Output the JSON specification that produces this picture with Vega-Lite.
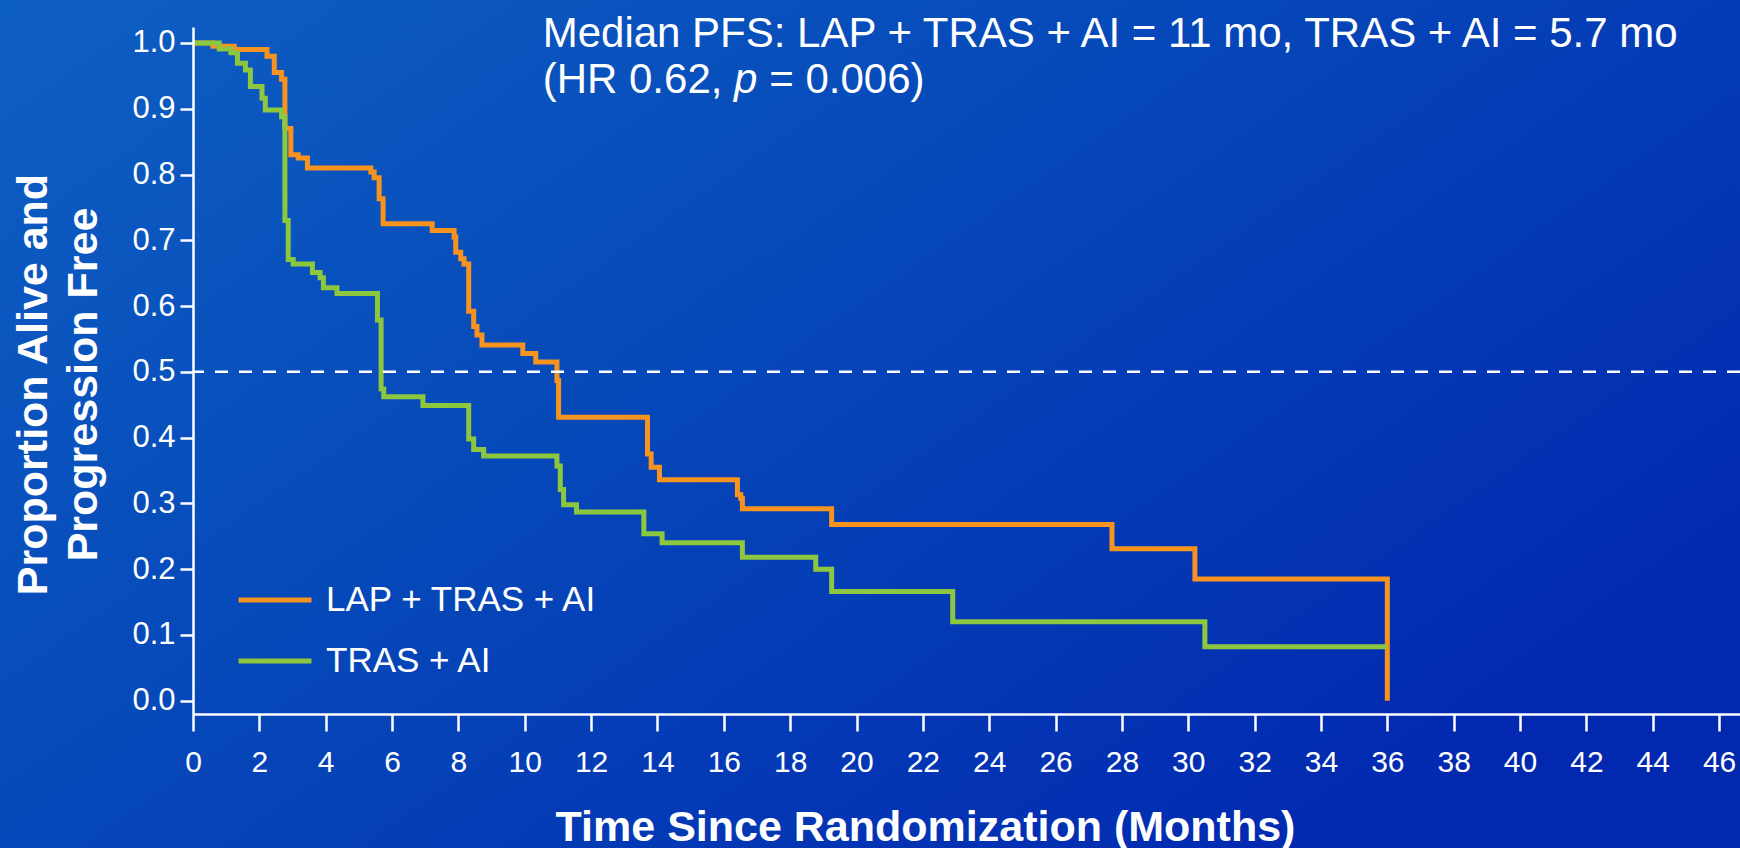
{
  "$schema": "https://vega.github.io/schema/vega-lite/v6.json",
  "width": 1547,
  "height": 687,
  "autosize": {"type": "none"},
  "padding": {"left": 193, "top": 27, "right": 0, "bottom": 134},
  "background": "#0647b9",
  "config": {"view": {"stroke": null}, "font": "Liberation Sans"},
  "datasets": {
    "one": [{"k": 1}],
    "km": [
      {"group": "LAP + TRAS + AI", "t": 0, "p": 1.0},
      {"group": "LAP + TRAS + AI", "t": 0.6, "p": 0.995},
      {"group": "LAP + TRAS + AI", "t": 1.24, "p": 0.99},
      {"group": "LAP + TRAS + AI", "t": 2.23, "p": 0.98},
      {"group": "LAP + TRAS + AI", "t": 2.45, "p": 0.955},
      {"group": "LAP + TRAS + AI", "t": 2.67, "p": 0.945},
      {"group": "LAP + TRAS + AI", "t": 2.77, "p": 0.87},
      {"group": "LAP + TRAS + AI", "t": 2.95, "p": 0.83},
      {"group": "LAP + TRAS + AI", "t": 3.17, "p": 0.825},
      {"group": "LAP + TRAS + AI", "t": 3.45, "p": 0.81},
      {"group": "LAP + TRAS + AI", "t": 5.36, "p": 0.804},
      {"group": "LAP + TRAS + AI", "t": 5.46, "p": 0.795},
      {"group": "LAP + TRAS + AI", "t": 5.61, "p": 0.763},
      {"group": "LAP + TRAS + AI", "t": 5.73, "p": 0.725},
      {"group": "LAP + TRAS + AI", "t": 7.21, "p": 0.715},
      {"group": "LAP + TRAS + AI", "t": 7.87, "p": 0.705},
      {"group": "LAP + TRAS + AI", "t": 7.92, "p": 0.682},
      {"group": "LAP + TRAS + AI", "t": 8.07, "p": 0.672},
      {"group": "LAP + TRAS + AI", "t": 8.17, "p": 0.664},
      {"group": "LAP + TRAS + AI", "t": 8.31, "p": 0.592},
      {"group": "LAP + TRAS + AI", "t": 8.46, "p": 0.569},
      {"group": "LAP + TRAS + AI", "t": 8.56, "p": 0.556},
      {"group": "LAP + TRAS + AI", "t": 8.71, "p": 0.541},
      {"group": "LAP + TRAS + AI", "t": 9.94, "p": 0.528},
      {"group": "LAP + TRAS + AI", "t": 10.33, "p": 0.515},
      {"group": "LAP + TRAS + AI", "t": 10.97, "p": 0.487},
      {"group": "LAP + TRAS + AI", "t": 11.02, "p": 0.431},
      {"group": "LAP + TRAS + AI", "t": 13.7, "p": 0.375},
      {"group": "LAP + TRAS + AI", "t": 13.81, "p": 0.355},
      {"group": "LAP + TRAS + AI", "t": 14.06, "p": 0.336},
      {"group": "LAP + TRAS + AI", "t": 16.41, "p": 0.313},
      {"group": "LAP + TRAS + AI", "t": 16.51, "p": 0.308},
      {"group": "LAP + TRAS + AI", "t": 16.56, "p": 0.292},
      {"group": "LAP + TRAS + AI", "t": 19.25, "p": 0.268},
      {"group": "LAP + TRAS + AI", "t": 27.7, "p": 0.231},
      {"group": "LAP + TRAS + AI", "t": 30.2, "p": 0.185},
      {"group": "LAP + TRAS + AI", "t": 36.0, "p": 0.0},
      {"group": "TRAS + AI", "t": 0, "p": 1.0},
      {"group": "TRAS + AI", "t": 0.79, "p": 0.991},
      {"group": "TRAS + AI", "t": 1.14, "p": 0.985},
      {"group": "TRAS + AI", "t": 1.34, "p": 0.969},
      {"group": "TRAS + AI", "t": 1.58, "p": 0.959},
      {"group": "TRAS + AI", "t": 1.73, "p": 0.934},
      {"group": "TRAS + AI", "t": 2.08, "p": 0.916},
      {"group": "TRAS + AI", "t": 2.18, "p": 0.898},
      {"group": "TRAS + AI", "t": 2.67, "p": 0.888},
      {"group": "TRAS + AI", "t": 2.77, "p": 0.73},
      {"group": "TRAS + AI", "t": 2.87, "p": 0.671},
      {"group": "TRAS + AI", "t": 3.02, "p": 0.664},
      {"group": "TRAS + AI", "t": 3.6, "p": 0.651},
      {"group": "TRAS + AI", "t": 3.83, "p": 0.643},
      {"group": "TRAS + AI", "t": 3.93, "p": 0.628},
      {"group": "TRAS + AI", "t": 4.34, "p": 0.619},
      {"group": "TRAS + AI", "t": 5.56, "p": 0.579},
      {"group": "TRAS + AI", "t": 5.67, "p": 0.474},
      {"group": "TRAS + AI", "t": 5.75, "p": 0.462},
      {"group": "TRAS + AI", "t": 6.93, "p": 0.449},
      {"group": "TRAS + AI", "t": 8.31, "p": 0.398},
      {"group": "TRAS + AI", "t": 8.46, "p": 0.382},
      {"group": "TRAS + AI", "t": 8.76, "p": 0.372},
      {"group": "TRAS + AI", "t": 10.97, "p": 0.357},
      {"group": "TRAS + AI", "t": 11.07, "p": 0.321},
      {"group": "TRAS + AI", "t": 11.17, "p": 0.298},
      {"group": "TRAS + AI", "t": 11.56, "p": 0.287},
      {"group": "TRAS + AI", "t": 13.59, "p": 0.254},
      {"group": "TRAS + AI", "t": 14.14, "p": 0.24},
      {"group": "TRAS + AI", "t": 16.56, "p": 0.218},
      {"group": "TRAS + AI", "t": 18.77, "p": 0.2},
      {"group": "TRAS + AI", "t": 19.25, "p": 0.166},
      {"group": "TRAS + AI", "t": 22.9, "p": 0.12},
      {"group": "TRAS + AI", "t": 30.5, "p": 0.082},
      {"group": "TRAS + AI", "t": 36.0, "p": 0.082}
    ]
  },
  "layer": [
    {
      "data": {"name": "one"},
      "mark": {
        "type": "rect", "clip": false,
        "fill": {
          "gradient": "linear", "x1": 0, "y1": 0, "x2": 1, "y2": 0.7,
          "stops": [
            {"offset": 0, "color": "#0e5fc3"},
            {"offset": 0.45, "color": "#0649b9"},
            {"offset": 1, "color": "#0228b0"}
          ]
        }
      },
      "encoding": {
        "x": {"datum": -5.83, "type": "quantitative"},
        "x2": {"datum": 46.63},
        "y": {"datum": 1.066, "type": "quantitative"},
        "y2": {"datum": -0.225}
      }
    },
    {
      "data": {"name": "km"},
      "mark": {"type": "line", "interpolate": "step-after", "strokeWidth": 5, "clip": false},
      "encoding": {
        "x": {
          "field": "t", "type": "quantitative",
          "scale": {"domain": [0, 46.63], "nice": false, "zero": false},
          "axis": {
            "zindex": 5,
            "values": [0,2,4,6,8,10,12,14,16,18,20,22,24,26,28,30,32,34,36,38,40,42,44,46],
            "grid": false, "domainColor": "white", "domainWidth": 2.5,
            "tickColor": "white", "tickWidth": 2.5, "tickSize": 17,
            "labelColor": "white", "labelFontSize": 30, "labelPadding": 16,
            "labelFlush": false, "labelOverlap": false,
            "title": "Time Since Randomization (Months)",
            "titleColor": "white", "titleFontSize": 43, "titleFontWeight": "bold",
            "titleX": 732, "titleY": 126, "titleBaseline": "alphabetic", "titleAlign": "center"
          }
        },
        "y": {
          "field": "p", "type": "quantitative",
          "scale": {"domain": [-0.0202, 1.0243], "nice": false, "zero": false},
          "axis": {
            "zindex": 5,
            "values": [0,0.1,0.2,0.3,0.4,0.5,0.6,0.7,0.8,0.9,1.0],
            "format": ".1f",
            "grid": false, "domainColor": "white", "domainWidth": 2.5,
            "tickColor": "white", "tickWidth": 2.5, "tickSize": 13,
            "labelColor": "white", "labelFontSize": 31, "labelPadding": 5,
            "labelFlush": false, "labelOverlap": false,
            "title": ["Proportion Alive and", "Progression Free"],
            "titleColor": "white", "titleFontSize": 43, "titleFontWeight": "bold",
            "titleAngle": -90, "titleX": -160, "titleY": 357,
            "titleBaseline": "middle", "titleAlign": "center", "titleLineHeight": 50
          }
        },
        "color": {
          "field": "group", "type": "nominal",
          "scale": {"domain": ["LAP + TRAS + AI", "TRAS + AI"], "range": ["#f7931e", "#8dc63f"]},
          "legend": {
            "zindex": 5,
            "orient": "none", "legendX": 43, "legendY": 534, "title": null,
            "symbolType": "stroke", "symbolSize": 5329, "symbolStrokeWidth": 5,
            "labelColor": "white", "labelFontSize": 35, "labelOffset": 12, "labelLimit": 0,
            "rowPadding": 4
          }
        }
      }
    },
    {
      "data": {"name": "one"},
      "mark": {"type": "rule", "color": "white", "strokeWidth": 2.5, "strokeDash": [13, 11]},
      "encoding": {
        "y": {"datum": 0.5, "type": "quantitative"}
      }
    },
    {
      "data": {"name": "one"},
      "mark": {"type": "text", "color": "white", "fontSize": 42, "align": "left", "baseline": "alphabetic"},
      "encoding": {
        "x": {"datum": 10.54, "type": "quantitative"},
        "y": {"datum": 0.9942, "type": "quantitative"},
        "text": {"value": "Median PFS: LAP + TRAS + AI = 11 mo, TRAS + AI = 5.7 mo"}
      }
    },
    {
      "data": {"name": "one"},
      "mark": {"type": "text", "color": "white", "fontSize": 42, "align": "left", "baseline": "alphabetic"},
      "encoding": {
        "x": {"datum": 10.54, "type": "quantitative"},
        "y": {"datum": 0.924, "type": "quantitative"},
        "text": {"value": "(HR 0.62,"}
      }
    },
    {
      "data": {"name": "one"},
      "mark": {"type": "text", "color": "white", "fontSize": 42, "fontStyle": "italic", "align": "left", "baseline": "alphabetic"},
      "encoding": {
        "x": {"datum": 16.31, "type": "quantitative"},
        "y": {"datum": 0.924, "type": "quantitative"},
        "text": {"value": "p"}
      }
    },
    {
      "data": {"name": "one"},
      "mark": {"type": "text", "color": "white", "fontSize": 42, "align": "left", "baseline": "alphabetic"},
      "encoding": {
        "x": {"datum": 17.37, "type": "quantitative"},
        "y": {"datum": 0.924, "type": "quantitative"},
        "text": {"value": "= 0.006)"}
      }
    }
  ]
}
